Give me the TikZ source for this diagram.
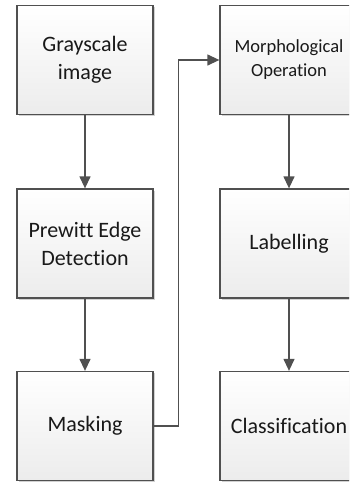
\documentclass[tikz,border=0pt]{standalone}
\usepackage{fontspec}
\setmainfont{Carlito}[Ligatures={NoCommon}]
\usetikzlibrary{arrows.meta,shadows}

\definecolor{edgegray}{RGB}{80,80,80}
\definecolor{fillgray}{RGB}{236,236,236}
\tikzset{
  stepbox/.style={draw=edgegray, line width=1.3pt, top color=white, bottom color=fillgray,
    minimum width=136pt, minimum height=109pt, inner sep=0pt, align=center,
    font=\fontsize{22}{28}\selectfont, text=black!90,
    drop shadow={shadow xshift=1.5pt, shadow yshift=-1.5pt, fill=black, opacity=0.18}},
  flow/.style={draw=edgegray, line width=1.3pt, -{Triangle[length=12pt,width=11pt]}}
}

\begin{document}
\begin{tikzpicture}[x=1pt,y=-1pt]
    \useasboundingbox (0,0) rectangle (349,482);
    \clip (0,0) rectangle (349,482);
    % left column
    \node[stepbox] (gray) at (85,60) {Grayscale\\image};
    \node[stepbox] (prewitt) at (85,243.5) {Prewitt Edge\\Detection};
    \node[stepbox] (mask) at (85,426) {Masking};
    % right column
    \node[stepbox, minimum width=138pt, font=\fontsize{18.5}{24}\selectfont] (morph) at (289,60) {Morphological\\Operation};
    \node[stepbox, minimum width=138pt] (label) at (289,243.5) {Labelling};
    \node[stepbox, minimum width=138pt] (classify) at (289,426) {Classification};
    % connectors
    \draw[flow] (gray) -- (prewitt);
    \draw[flow] (prewitt) -- (mask);
    \draw[flow] (mask.east) -- ++(25,0) |- (morph.west);
    \draw[flow] (morph) -- (label);
    \draw[flow] (label) -- (classify);
\end{tikzpicture}
\end{document}
